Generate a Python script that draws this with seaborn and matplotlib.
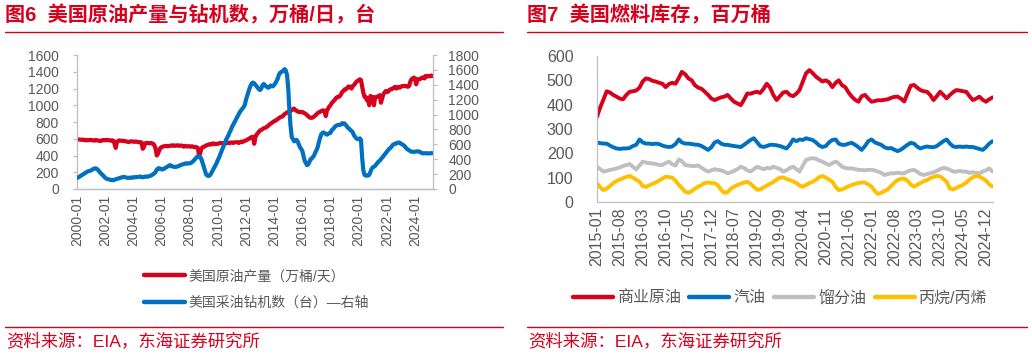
import pandas as pd
import numpy as np
import matplotlib
matplotlib.use("Agg")
import matplotlib.pyplot as plt
import matplotlib.dates as mdates
from matplotlib.lines import Line2D
import seaborn as sns

sns.set_theme(style="white")
plt.rcParams['font.family'] = ['Liberation Sans', 'Noto Sans CJK SC']

RED = "#D7001D"
BLUE = "#0070C0"
GREY = "#BFBFBF"
YELLOW = "#FFC000"
TXT = "#595959"
SPINE = "#BFBFBF"

# ---- 图6 data: monthly, 2000-01 .. 2025-04 ----
crude_prod = [
    595, 592, 590, 588, 590, 585, 588, 584, 580, 585, 583, 586,
    585, 582, 580, 578, 585, 582, 578, 575, 572, 580, 585, 582,
    585, 583, 586, 584, 580, 578, 582, 575, 540, 490, 560, 575,
    580, 578, 575, 572, 576, 570, 568, 565, 560, 565, 570, 568,
    565, 563, 568, 565, 560, 558, 560, 555, 480, 500, 545, 550,
    550, 548, 545, 550, 545, 540, 520, 480, 400, 420, 460, 490,
    500, 505, 510, 512, 515, 510, 512, 515, 520, 518, 522, 515,
    518, 520, 522, 515, 518, 520, 512, 505, 515, 510, 508, 512,
    508, 505, 510, 505, 500, 502, 498, 490, 400, 430, 480, 500,
    505, 510, 520, 525, 530, 535, 530, 540, 545, 535, 540, 538,
    540, 545, 548, 550, 545, 540, 548, 545, 550, 552, 548, 555,
    555, 550, 555, 558, 560, 555, 550, 560, 565, 560, 570, 575,
    580, 590, 595, 605, 615, 620, 625, 540, 620, 650, 665, 685,
    700, 705, 715, 725, 730, 735, 745, 755, 770, 780, 790, 800,
    810, 815, 825, 835, 845, 855, 862, 865, 880, 895, 905, 915,
    920, 925, 932, 940, 955, 960, 945, 935, 925, 920, 922, 918,
    920, 910, 905, 895, 880, 870, 855, 850, 850, 855, 865, 878,
    890, 905, 915, 920, 930, 935, 940, 920, 870, 940, 960, 985,
    1000, 1025, 1040, 1055, 1070, 1090, 1100, 1100, 1110, 1130, 1160, 1170,
    1190, 1190, 1200, 1220, 1225, 1210, 1200, 1230, 1240, 1260, 1280, 1290,
    1300, 1310, 1300, 1220, 1150, 1100, 1100, 1060, 1080, 1000, 1110, 1100,
    1100, 1000, 1090, 1100, 1100, 1110, 1120, 1030, 1080, 1130, 1150, 1170,
    1160, 1160, 1180, 1190, 1190, 1200, 1210, 1220, 1200, 1210, 1220, 1210,
    1220, 1230, 1230, 1230, 1230, 1225, 1220, 1230, 1280, 1310, 1320, 1330,
    1320, 1250, 1310, 1310, 1310, 1320, 1330, 1330, 1320, 1350, 1340, 1350,
    1350, 1345, 1355, 1350,
]
oil_rigs = [
    150, 155, 165, 175, 185, 195, 205, 215, 225, 235, 240, 245,
    250, 260, 270, 275, 278, 270, 255, 235, 215, 200, 185, 170,
    150, 140, 135, 130, 125, 122, 120, 118, 125, 130, 135, 140,
    145, 150, 155, 160, 162, 158, 155, 150, 148, 152, 155, 150,
    155, 160, 158, 160, 162, 165, 168, 160, 158, 162, 165, 168,
    165, 170, 175, 180, 190, 200, 210, 230, 260, 275, 280, 270,
    265, 262, 270, 280, 290, 300, 310, 320, 315, 305, 300, 298,
    295, 300, 305, 310, 320, 325, 330, 335, 340, 345, 340, 345,
    345, 350, 360, 375, 390, 410, 425, 440, 440, 430, 400, 350,
    300, 250, 200, 180, 175, 180, 200, 230, 260, 290, 320, 350,
    390, 420, 460, 500, 540, 580, 620, 660, 690, 720, 760, 790,
    830, 860, 890, 920, 950, 980, 1010, 1040, 1060, 1080, 1100, 1130,
    1200, 1250, 1300, 1350, 1390, 1420, 1430, 1420, 1400, 1380, 1360, 1340,
    1330, 1350, 1390, 1410, 1400, 1380, 1370, 1360, 1370, 1390, 1380, 1380,
    1400, 1420, 1450, 1480, 1530, 1560, 1570, 1580, 1595, 1610, 1590, 1530,
    1350, 1050, 850, 700, 670, 640, 650, 660, 640, 600, 560, 540,
    510, 440, 380, 350, 320, 330, 360, 400, 410, 430, 450, 490,
    520, 560, 620, 680, 730, 750, 760, 750, 740, 730, 740, 750,
    755, 790, 800, 820, 840, 850, 860, 860, 860, 870, 885, 880,
    880, 860, 840, 820, 810, 790, 780, 760, 720, 700, 680, 670,
    670, 680, 660, 420, 250, 190, 180, 180, 180, 190, 230, 270,
    290, 300, 310, 330, 350, 370, 380, 400, 420, 440, 460, 480,
    500, 520, 540, 550, 570, 590, 600, 610, 610, 620, 625, 620,
    610, 600, 590, 580, 560, 540, 530, 520, 510, 500, 500, 500,
    500, 505, 505, 505, 500, 490, 480, 480, 480, 480, 480, 480,
    478, 480, 482, 480,
]

# ---- 图7 data: monthly, 2015-01 .. 2025-02 ----
crude_stock = [
    350, 390, 420, 455, 450, 440, 433, 425, 422, 440, 453, 455,
    458, 470, 495, 508, 505, 498, 495, 490, 486, 472, 485, 490,
    486, 510, 535, 525, 508, 500, 480, 470, 465, 453, 440, 425,
    419, 425, 430, 433, 440, 425, 412, 405, 398, 420, 446, 445,
    450, 453, 448, 465, 486, 470, 440, 419, 435, 450, 453, 440,
    435, 445, 460, 495, 529, 542, 530, 515, 505, 495, 500, 492,
    472, 490, 500, 480, 472, 450, 433, 420, 412, 435, 440, 425,
    412, 415, 418, 418, 420, 422, 428, 432, 433, 425, 413, 445,
    478, 481, 470, 460, 455, 453, 440, 419, 435, 453, 440, 426,
    440, 452, 460, 458, 455, 453, 435, 419, 425, 433, 420, 412,
    422, 430,
]
gasoline = [
    244, 242, 240, 240, 232, 225, 220, 218, 220, 220, 222, 230,
    235, 257, 245, 240, 240, 238, 240, 238, 232, 228, 226, 228,
    238, 257, 245, 240, 240, 238, 236, 235, 230, 222, 214, 225,
    245, 250, 240, 235, 235, 232, 230, 228, 226, 235, 245, 255,
    262, 245, 230, 226, 230, 235, 235, 233, 230, 225, 220, 235,
    257, 250, 257, 255, 262, 258, 255, 245, 232, 226, 230, 245,
    255, 257, 240, 235, 235, 240, 243, 235, 225, 214, 230, 250,
    257, 245, 240, 235, 225, 220, 222, 215, 209, 215, 225, 235,
    243, 240, 228, 220, 225, 228, 226, 225, 230, 240, 250, 257,
    240, 228, 226, 228, 226, 228, 226, 226, 222, 218, 214, 225,
    240, 250,
]
distillate = [
    145, 135, 125, 128, 132, 134, 138, 142, 148, 152, 156, 145,
    134, 150, 166, 162, 160, 158, 156, 152, 152, 160, 166, 155,
    150, 175, 168, 152, 150, 148, 148, 150, 140, 132, 125, 130,
    135, 132, 130, 125, 118, 122, 128, 135, 145, 140, 130, 125,
    135, 145, 140, 135, 140, 138, 145, 140, 135, 125, 130, 140,
    145, 135, 125, 150, 173, 178, 180, 178, 170, 166, 158, 152,
    160, 166, 158, 145, 140, 138, 138, 135, 132, 132, 130, 132,
    132, 130, 125, 120, 111, 115, 118, 118, 120, 118, 118, 125,
    130, 132, 125, 115, 111, 115, 118, 122, 128, 135, 140, 138,
    132, 125, 125, 128, 125, 125, 120, 122, 120, 118, 125, 130,
    138, 125,
]
propane = [
    77, 60, 49, 55, 65, 78, 86, 92, 98, 103, 107, 100,
    92, 83, 66, 62, 68, 75, 80, 88, 96, 104, 102, 100,
    88, 70, 58, 42, 38, 45, 55, 63, 70, 78, 80, 78,
    77, 68, 50, 38, 40, 55, 63, 70, 75, 80, 83, 75,
    62, 50, 52, 60, 68, 75, 82, 92, 100, 101, 95, 90,
    85, 78, 68, 63, 70, 78, 83, 92, 102, 107, 100, 92,
    83, 62, 49, 52, 58, 65, 70, 75, 78, 80, 80, 72,
    63, 45, 33, 38, 45, 52, 65, 80, 90, 95, 96, 88,
    72, 63, 70, 78, 85, 90, 98, 103, 107, 105, 95, 83,
    55, 52, 58, 65, 70, 80, 92, 102, 107, 105, 97, 88,
    72, 63,
]

left_dates = pd.date_range("2000-01-01", periods=len(crude_prod), freq="MS")
right_dates = pd.date_range("2015-01-01", periods=len(crude_stock), freq="MS")
left_ticks = pd.date_range("2000-01-01", "2024-01-01", freq="24MS")
right_ticks = pd.date_range("2015-01-01", "2024-12-01", freq="7MS")

fig = plt.figure(figsize=(10.32, 3.56), dpi=100)
W, H = 1032, 356


def px_box(x0, y0, x1, y1):
    return [x0 / W, 1 - y1 / H, (x1 - x0) / W, (y1 - y0) / H]


def style_axis(ax, size):
    ax.set_facecolor("white")
    ax.grid(False)
    for s in ax.spines.values():
        s.set_color(SPINE)
        s.set_linewidth(0.9)
    ax.tick_params(axis="both", colors=SPINE, labelcolor=TXT, labelsize=size,
                   length=3, width=0.9, direction="out")
    ax.set_xlabel("")
    ax.set_ylabel("")


# ---------------- left chart ----------------
axL = fig.add_axes(px_box(77, 55, 433, 189))
sns.lineplot(x=left_dates, y=crude_prod, ax=axL, color=RED, linewidth=3)
axR = axL.twinx()
sns.lineplot(x=left_dates, y=oil_rigs, ax=axR, color=BLUE, linewidth=3)
axL.set_ylim(0, 1600)
axR.set_ylim(0, 1800)
axL.set_yticks(range(0, 1601, 200))
axR.set_yticks(range(0, 1801, 200))
axL.set_xlim(pd.Timestamp("2000-01-01"), pd.Timestamp("2025-04-12"))
axL.set_xticks(left_ticks)
axL.xaxis.set_major_formatter(mdates.DateFormatter("%Y-%m"))
for ax in (axL, axR):
    style_axis(ax, 10)
    ax.spines["top"].set_visible(False)
axL.spines["right"].set_visible(False)
axR.spines["left"].set_visible(False)
axL.tick_params(axis="y", pad=10)
axR.tick_params(axis="y", pad=8)
axL.tick_params(axis="x", pad=1)
plt.setp(axL.get_xticklabels(), rotation=90)

# ---------------- right chart ----------------
ax7 = fig.add_axes(px_box(597, 56, 993, 202))
for vals, col in ((crude_stock, RED), (gasoline, BLUE), (distillate, GREY), (propane, YELLOW)):
    sns.lineplot(x=right_dates, y=vals, ax=ax7, color=col, linewidth=2.8)
ax7.set_ylim(0, 600)
ax7.set_yticks(range(0, 601, 100))
ax7.set_xlim(pd.Timestamp("2015-01-01"), pd.Timestamp("2025-02-05"))
ax7.set_xticks(right_ticks)
ax7.xaxis.set_major_formatter(mdates.DateFormatter("%Y-%m"))
style_axis(ax7, 11.5)
ax7.spines["top"].set_visible(False)
ax7.spines["right"].set_visible(False)
ax7.tick_params(axis="y", pad=14)
ax7.tick_params(axis="x", pad=1)
plt.setp(ax7.get_xticklabels(), rotation=90)

# ---------------- legends ----------------
hL = [Line2D([0], [0], color=RED, lw=3.2, solid_capstyle="round"),
      Line2D([0], [0], color=BLUE, lw=3.2, solid_capstyle="round")]
legL = fig.legend(hL, ["美国原油产量（万桶/天）", "美国采油钻机数（台）—右轴"],
                  loc="center", bbox_to_anchor=(256.5 / W, 1 - 289.5 / H),
                  frameon=False, fontsize=10, handlelength=2.9, handletextpad=0.25,
                  labelspacing=0.95, labelcolor=TXT)

h7 = [Line2D([0], [0], color=c, lw=3.2, solid_capstyle="round") for c in (RED, BLUE, GREY, YELLOW)]
leg7 = fig.legend(h7, ["商业原油", "汽油", "馏分油", "丙烷/丙烯"], loc="center",
                  bbox_to_anchor=(780 / W, 1 - 297.7 / H), ncol=4, frameon=False,
                  fontsize=11.5, handlelength=2.5, handletextpad=0.25,
                  columnspacing=0.55, labelcolor=TXT)

# ---------------- titles, rules, sources ----------------
fig.text(5 / W, 1 - 15.5 / H, "图6  美国原油产量与钻机数，万桶/日，台", color=RED,
         fontsize=14.5, fontweight="bold", va="center", ha="left")
fig.text(527 / W, 1 - 15.5 / H, "图7  美国燃料库存，百万桶", color=RED,
         fontsize=14.5, fontweight="bold", va="center", ha="left")
for x0, x1 in ((5, 503), (527, 1027)):
    for y in (32, 326.5):
        fig.add_artist(Line2D([x0 / W, x1 / W], [1 - y / H, 1 - y / H],
                              color=RED, lw=1.0, transform=fig.transFigure))
fig.text(6 / W, 1 - 340.5 / H, "资料来源：EIA，东海证券研究所", color=RED,
         fontsize=12.5, va="center", ha="left")
fig.text(528.5 / W, 1 - 340.5 / H, "资料来源：EIA，东海证券研究所", color=RED,
         fontsize=12.5, va="center", ha="left")

fig.savefig("out.png", dpi=100, facecolor="white")
